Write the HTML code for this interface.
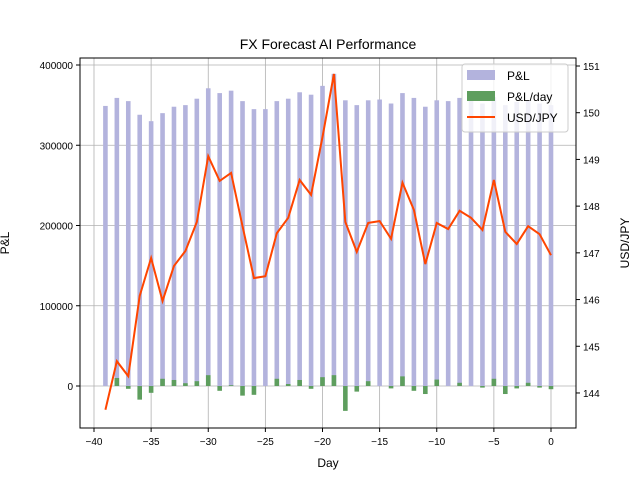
<!DOCTYPE html>
<html><head><meta charset="utf-8"><style>
body{margin:0;background:#fff;}
svg{display:block;font-family:"Liberation Sans","DejaVu Sans",sans-serif;}
</style></head><body>
<svg id="chart" width="640" height="480">
<g id="grid"></g>
<g id="bars"></g>
<g id="line"></g>
<g id="axes"></g>
<text x="328" y="49" text-anchor="middle" font-size="14">FX Forecast AI Performance</text>
<text x="328" y="467" text-anchor="middle" font-size="12">Day</text>
<text transform="translate(9,243) rotate(-90)" text-anchor="middle" font-size="12">P&amp;L</text>
<text transform="translate(629,243) rotate(-90)" text-anchor="middle" font-size="12">USD/JPY</text>
<g>
<rect x="462" y="64" width="106" height="68" rx="3" fill="#fff" fill-opacity="0.8" stroke="#ccc"/>
<rect x="467" y="70" width="28" height="10" fill="#b3b3dd"/>
<text x="507" y="80" font-size="12">P&amp;L</text>
<rect x="467" y="91" width="28" height="10" fill="#5e9e5e"/>
<text x="507" y="101" font-size="12">P&amp;L/day</text>
<line x1="467" y1="117" x2="495" y2="117" stroke="#ff4500" stroke-width="2"/>
<text x="507" y="122" font-size="12">USD/JPY</text>
</g>
</svg>
<script>
const days=[-39,-38,-37,-36,-35,-34,-33,-32,-31,-30,-29,-28,-27,-26,-25,-24,-23,-22,-21,-20,-19,-18,-17,-16,-15,-14,-13,-12,-11,-10,-9,-8,-7,-6,-5,-4,-3,-2,-1,0];
const pnl=[349000,359000,355000,338000,330000,340000,348000,350000,358000,371000,365000,368000,355000,345000,345000,355000,358000,366000,363000,374000,389000,356000,350000,356000,357000,352000,365000,359000,348000,356000,355000,359000,356000,352000,360000,350000,354000,356000,352000,350000];
const pnlDay=[0,10000,-3500,-17000,-8500,9000,7500,3500,6000,13500,-6000,1000,-12000,-11000,0,9000,2500,7500,-3500,11000,13500,-31000,-7000,6000,0,-3000,12000,-6000,-10000,8000,0,4000,0,-2000,9000,-10000,-3000,4000,-2000,-4000];
const usdjpy=[143.64,144.68,144.36,146.08,146.89,145.97,146.72,147.04,147.66,149.07,148.54,148.71,147.57,146.46,146.50,147.42,147.75,148.56,148.24,149.48,150.83,147.66,147.02,147.64,147.68,147.30,148.50,147.92,146.76,147.64,147.51,147.90,147.75,147.49,148.56,147.45,147.19,147.57,147.40,146.95];
const xTicks=[-40,-35,-30,-25,-20,-15,-10,-5,0];
const yTicks=[0,100000,200000,300000,400000];
const y2Ticks=[144,145,146,147,148,149,150,151];

const L=80,R=576,T=58,B=428;
const xs=d=>551+(d)*11.425;
const ys=v=>386-v*80.25/100000;
const y2=v=>66+(151-v)*46.71;
const NS="http://www.w3.org/2000/svg";
function mk(p,tag,at){const e=document.createElementNS(NS,tag);for(const k in at)e.setAttribute(k,at[k]);p.appendChild(e);return e;}
const grid=document.getElementById('grid'),bars=document.getElementById('bars'),line=document.getElementById('line'),axes=document.getElementById('axes');
xTicks.forEach(t=>{const g=mk(grid,'line',{x1:xs(t),x2:xs(t),y1:T,y2:B,stroke:'#b0b0b0','stroke-width':0.8});


mk(axes,'line',{x1:xs(t),x2:xs(t),y1:B,y2:B+4,stroke:'#000'});
const tx=mk(axes,'text',{x:xs(t),y:B+17,'text-anchor':'middle','font-size':10});tx.textContent=t===0?'0':'\u2212'+Math.abs(t);

});
yTicks.forEach(t=>{const g=mk(grid,'line',{x1:L,x2:R,y1:ys(t),y2:ys(t),stroke:'#b0b0b0','stroke-width':0.8});


mk(axes,'line',{x1:L-4,x2:L,y1:ys(t),y2:ys(t),stroke:'#000'});
const tx=mk(axes,'text',{x:L-7,y:ys(t)+4,'text-anchor':'end','font-size':10});tx.textContent=t;

});
y2Ticks.forEach(t=>{mk(axes,'line',{x1:R,x2:R+4,y1:y2(t),y2:y2(t),stroke:'#000'});
const tx=mk(axes,'text',{x:R+7,y:y2(t)+4,'font-size':10});tx.textContent=t;

});
const w=4.6;
days.forEach((d,i)=>{const v=pnl[i];const r=mk(bars,'rect',{x:xs(d)-w/2,y:Math.min(ys(v),ys(0)),width:w,height:Math.abs(ys(v)-ys(0)),fill:'#b3b3dd'});

});
days.forEach((d,i)=>{const v=pnlDay[i];if(!v)return;const r=mk(bars,'rect',{x:xs(d)-w/2,y:Math.min(ys(v),ys(0)),width:w,height:Math.abs(ys(v)-ys(0)),fill:'#5e9e5e'});

});
const pl=mk(line,'polyline',{points:days.map((d,i)=>xs(d)+','+y2(usdjpy[i])).join(' '),fill:'none',stroke:'#ff4500','stroke-width':2});


const fr=mk(axes,'rect',{x:L,y:T,width:R-L,height:B-T,fill:'none',stroke:'#000','stroke-width':1});


</script>
</body></html>
